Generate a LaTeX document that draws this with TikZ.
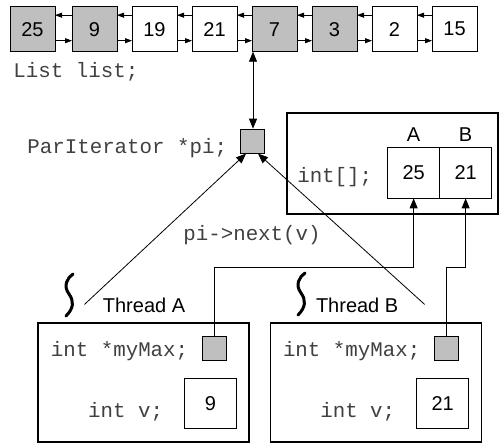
\documentclass[tikz,border=0pt]{standalone}
\usepackage{fontspec}
\setmainfont{Liberation Sans}
\setmonofont{Liberation Mono}
\usepackage{tikz}
\usetikzlibrary{positioning, arrows.meta}
\tikzset{
  lcell/.style={draw, minimum width=45pt, minimum height=45pt, inner sep=0pt,
                outer sep=0pt, font=\fontsize{20}{24}\selectfont},
  lfull/.style={lcell, fill=black!25},      % element already taken
  ptr/.style={draw, fill=black!25, minimum size=24pt, inner sep=0pt},
  vcell/.style={draw, minimum width=52pt, minimum height=50pt, inner sep=0pt,
                outer sep=0pt, font=\fontsize{20}{24}\selectfont},
  code/.style={font=\ttfamily\fontsize{20.8}{24}\selectfont, text=black!75, inner sep=0pt},
  lbl/.style={font=\fontsize{20}{24}\selectfont, inner sep=0pt},
  tbox/.style={draw, line width=1.1pt, minimum width=211pt, minimum height=119pt},
  frame/.style={draw, line width=1.25pt, minimum width=211pt, minimum height=101pt},
  lar/.style={-{Triangle[length=7pt, width=5pt]}, line width=0.8pt},
  par/.style={-{Triangle[length=10pt, width=8pt]}, line width=0.8pt},
  dpar/.style={{Triangle[length=10pt, width=8pt]}-{Triangle[length=10pt, width=8pt]}, line width=0.8pt},
  squig/.style={line width=3pt, line cap=round},
}

\begin{document}
\begin{tikzpicture}[x=1pt, y=-1pt, node distance=15pt, line width=0.9pt]
  \useasboundingbox (0,0) rectangle (500,443);

  % the shared list
  \node[lfull] (n1) at (32.5,29.2) {25};
  \node[lfull, right=17pt of n1] (n2) {9};
  \node[lcell, right=of n2] (n3) {19};
  \node[lcell, right=of n3] (n4) {21};
  \node[lfull, right=of n4] (n5) {7};
  \node[lfull, right=of n5] (n6) {3};
  \node[lcell, right=of n6] (n7) {2};
  \node[lcell, right=of n7] (n8) {15};
  \foreach \a/\b in {n1/n2, n2/n3, n3/n4, n4/n5, n5/n6, n6/n7, n7/n8} {
    \draw[lar] ([yshift=14pt]\b.west) -- ([yshift=14pt]\a.east);
    \draw[lar] ([yshift=-11.5pt]\a.east) -- ([yshift=-11.5pt]\b.west);
  }
  \node[code, below right=26pt and 3pt of n1.south west, anchor=base west] (lst) {List list;};

  % iterator
  \node[ptr, below=77pt of n5.south west] (pi) {};
  \node[code, left=12pt of pi.south west, anchor=base east] (pit) {ParIterator *pi;};
  \draw[dpar] ([xshift=1pt]pi.north) -- ([xshift=1pt]pi.north |- n5.south);
  \node[code, below=87pt of pi.south, anchor=base] (nxt) {pi->next(v)};

  % array of maxima
  \node[frame] (arr) at (392.5,163.5) {};
  \node[vcell, minimum height=51pt, below left=35pt and 7pt of arr.north east] (cb) {21};
  \node[vcell, minimum height=51pt, left=0pt of cb] (ca) {25};
  \node[lbl, above=6pt of ca, anchor=base] (la) {A};
  \node[lbl, above=6pt of cb, anchor=base] (lb) {B};
  \node[code, left=15pt of ca, anchor=base east, yshift=-9.5pt] (art) {int[];};

  % threads
  \node[tbox] (tbA) at (143.5,382.5) {};
  \node[tbox, right=20pt of tbA] (tbB) {};
  \node[lbl, above right=10pt and 65pt of tbA.north west, anchor=base west] (thA) {Thread A};
  \node[lbl, above right=10pt and 46pt of tbB.north west, anchor=base west] (thB) {Thread B};
  % thread squiggles
  \draw[squig] (73,274) .. controls (67,278) and (63,286) .. (69,294)
    .. controls (74,301) and (74,308) .. (66,316);
  \draw[squig] (305,273) .. controls (299,277) and (295,285) .. (301,293)
    .. controls (306,300) and (306,307) .. (298,315);

  \node[ptr, below left=14pt and 23pt of tbA.north east] (mA) {};
  \node[code, left=13pt of mA, anchor=base east, yshift=-8pt] (mAt) {int *myMax;};
  \node[vcell, above left=14pt and 13pt of tbA.south east] (vA) {9};
  \node[code, left=21pt of vA, anchor=base east, yshift=-14pt] (vAt) {int v;};

  \node[ptr, below left=14pt and 23pt of tbB.north east] (mB) {};
  \node[code, left=13pt of mB, anchor=base east, yshift=-8pt] (mBt) {int *myMax;};
  \node[vcell, above left=14pt and 13pt of tbB.south east] (vB) {21};
  \node[code, left=21pt of vB, anchor=base east, yshift=-14pt] (vBt) {int v;};

  % pointers
  \coordinate (lA) at ([shift={(47pt,18pt)}]tbA.north west);
  \coordinate (lB) at ([shift={(-57pt,18pt)}]tbB.north east);
  \draw[par] (lA) -- ([xshift=-6pt]pi.south);
  \draw[par] (lB) -- ([xshift=6pt]pi.south);
  \draw[par] (mA.north) -- ++(0,-69) -| (ca.south);
  \draw[par] (mB.north) -- ++(0,-69) -| (cb.south);
\end{tikzpicture}
\end{document}
